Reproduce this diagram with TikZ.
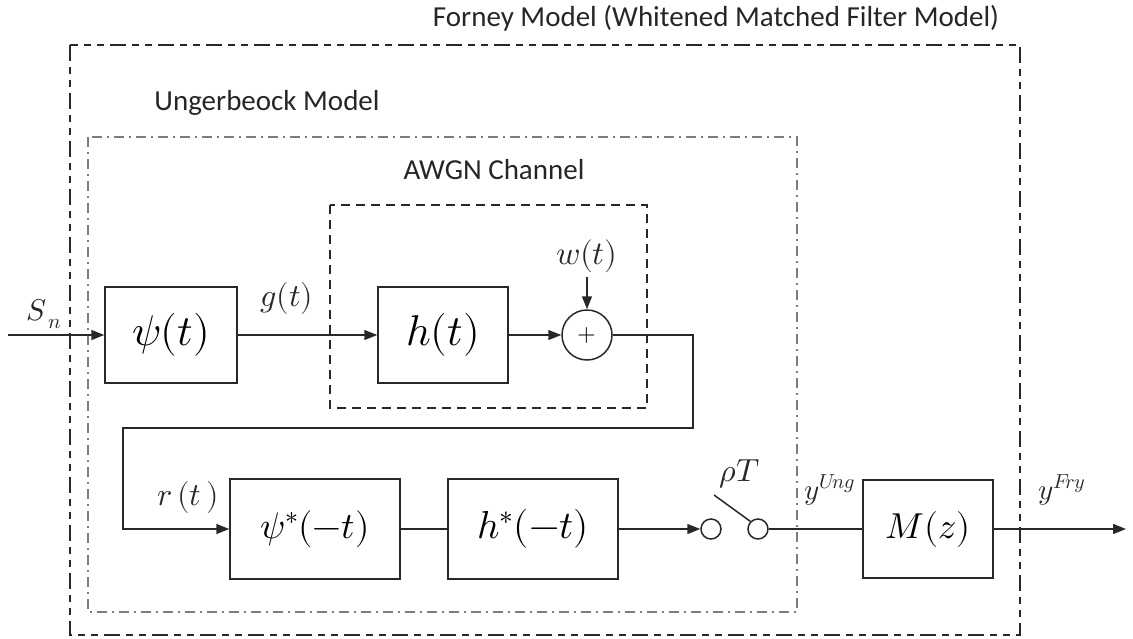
\documentclass[tikz,border=0pt]{standalone}
\usepackage{fontspec}
\usepackage{unicode-math}
\setmathfont{Latin Modern Math}
\setsansfont{Carlito}
\usetikzlibrary{arrows.meta}
\definecolor{ln}{RGB}{40,40,40}
\definecolor{dd}{RGB}{125,125,125}
\begin{document}
\begin{tikzpicture}[x=1pt,y=-1pt,
  blk/.style={draw=ln,line width=1.5pt,minimum width=#1,minimum height=96pt,inner sep=0pt,font=\fontsize{43}{48}\selectfont},
  blk/.default=132pt,
  arr/.style={draw=ln,line width=1.5pt,-{Triangle[length=13pt,width=10pt]}},
  wire/.style={draw=ln,line width=1.5pt},
  lab/.style={font=\fontsize{32}{36}\selectfont,text=ln,inner sep=0pt},
  ttl/.style={font=\sffamily\fontsize{29}{34}\selectfont,text=black!85,inner sep=0pt},
  sw/.style={circle,draw=ln,line width=1.5pt,minimum size=20pt,inner sep=0pt},
]
\useasboundingbox (0,0) rectangle (1133,638);
% frames
\draw[ln,line width=1.5pt,dash pattern=on 16pt off 6pt on 7pt off 6pt on 7pt off 6pt] (70,45) rectangle (1020,635);
\draw[dd,line width=1.5pt,dash pattern=on 10pt off 5pt on 2pt off 5pt] (88,137) rectangle (797,612);
\draw[ln,line width=1.5pt,dash pattern=on 9pt off 6pt] (330,205) rectangle (647,408);
\node[ttl] (forney) at (716,18) {Forney Model (Whitened Matched Filter Model)};
\node[ttl] (unger) at (267,103) {Ungerbeock Model};
\node[ttl] (awgn) at (494,170) {AWGN Channel};
% blocks
\node[blk] (psi) at (171,335) {$\psi(t)$};
\node[blk=130pt] (h) at (443,335) {$h(t)$};
\node[circle,draw=ln,line width=1.5pt,minimum size=50pt,inner sep=0pt,font=\fontsize{24}{28}\selectfont] (add) at (587,335) {$+$};
\node[lab,font=\fontsize{33}{38}\selectfont] (w) at (587,256) {$w(t)$};
\node[blk=170pt,minimum height=100pt,font=\fontsize{37}{42}\selectfont] (psis) at (315,529) {$\psi^*(-t)$};
\node[blk=170pt,minimum height=100pt,font=\fontsize{39}{44}\selectfont] (hs) at (533,529) {$h^*(-t)$};
\node[sw] (sw1) at (711,529) {};
\node[sw] (sw2) at (758,529) {};
\node[blk=130pt,minimum height=98pt,font=\fontsize{36}{40}\selectfont] (M) at (928,529) {$M(z)$};
% labels
\node[lab,font=\fontsize{30}{34}\selectfont] (sn) at (44,314) {$S_{\,n}$};
\node[lab] (g) at (287,298) {$g(t)$};
\node[lab] (r) at (188,497) {$r\,(t\,)$};
\node[lab] (rho) at (740,474) {$\rho T$};
\node[lab,font=\fontsize{29}{34}\selectfont] (yu) at (830,490) {$y^{U\!ng}$};
\node[lab,font=\fontsize{29}{34}\selectfont] (yf) at (1062,490) {$y^{F\!ry}$};
% coordinates
\coordinate (in) at (8,335);
\coordinate (t1) at (693,428);
\coordinate (t2) at (123,428);
\coordinate (lev) at (714,495);
\coordinate (out) at (1126,529);
% wires
\draw[arr] (in) -- (psi);
\draw[arr] (psi) -- (h);
\draw[arr] (h) -- (add);
\draw[arr] (587,277) -- (add);
\draw[arr] (add.east) -| (t1) -- (t2) |- (psis.west);
\draw[wire] (psis) -- (hs);
\draw[arr] (hs.east) -- (sw1.west);
\draw[wire] (lev) -- (sw2.north west);
\draw[wire] (sw2.east) -- (M.west);
\draw[arr] (M.east) -- (out);
\end{tikzpicture}
\end{document}
